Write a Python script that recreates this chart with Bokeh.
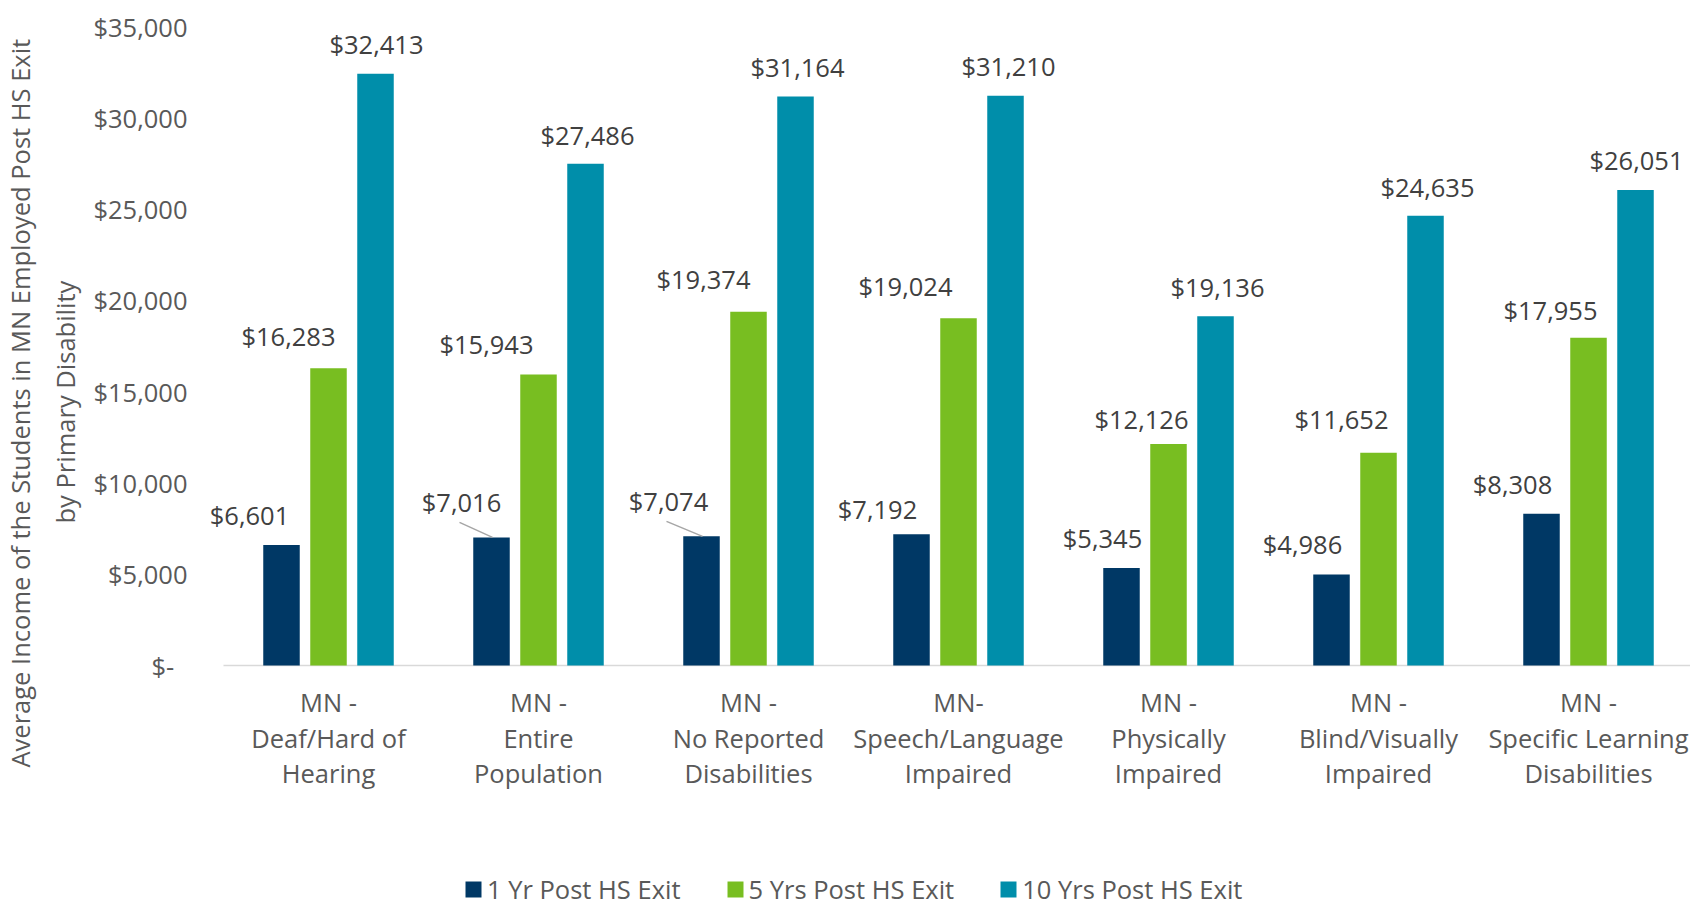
import math
from bokeh.plotting import figure
from bokeh.models import (ColumnDataSource, Range1d, FixedTicker, LabelSet, Title,
                          Legend, LegendItem)
from bokeh.core.properties import value
from bokeh.embed import file_html
from bokeh.resources import INLINE

# ---------------- data ----------------
categories = [
    "MN -\nDeaf/Hard of\nHearing",
    "MN -\nEntire\nPopulation",
    "MN -\nNo Reported\nDisabilities",
    "MN-\nSpeech/Language\nImpaired",
    "MN -\nPhysically\nImpaired",
    "MN -\nBlind/Visually\nImpaired",
    "MN -\nSpecific Learning\nDisabilities",
]
series_names = ["1 Yr Post HS Exit", "5 Yrs Post HS Exit", "10 Yrs Post HS Exit"]
yr1 = [6601, 7016, 7074, 7192, 5345, 4986, 8308]
yr5 = [16283, 15943, 19374, 19024, 12126, 11652, 17955]
yr10 = [32413, 27486, 31164, 31210, 19136, 24635, 26051]
y_ticks = [0, 5000, 10000, 15000, 20000, 25000, 30000, 35000]
y_tick_labels = ["$-\u00a0\u00a0", "$5,000", "$10,000", "$15,000", "$20,000",
                 "$25,000", "$30,000", "$35,000"]
y_title = ["Average Income of the Students in MN Employed Post HS Exit",
           "by Primary Disability"]

# ---------------- layout / style ----------------
colors = ["#003865", "#78BE21", "#008EAA"]
FONT = "Open Sans"
AXIS_TXT = "#595959"
LABEL_TXT = "#404040"
FS = "25.5px"

W, H = 1690, 906
BL = 195                 # frame left edge (px)
AXIS_X0 = 223            # px where the category axis starts
Y_TOP_PX = 26            # px of the 35,000 line
Y_ZERO_PX = 665          # px of the zero line
PX_PER_CAT = 210.0
Y_MAX = 35000
FW = W - BL
px_x = PX_PER_CAT
px_y = (Y_ZERO_PX - Y_TOP_PX) / Y_MAX
x_start = -(AXIS_X0 - BL) / px_x
x_end = x_start + FW / px_x
y_start = -(H - Y_ZERO_PX) / px_y
y_end = Y_MAX + Y_TOP_PX / px_y

bar_w = 36.5 / px_x
dodge = [-47 / px_x, 0.0, 47 / px_x]

# manual data-label placement (px): shift from bar centre, height above bar top
label_dx = [[-32, -30, -33, -34, -19, -29, -29],
            [-40, -52, -45, -53, -27, -37, -38],
            [1, 2, 2, 3, 2, 2, 1]]
label_dy = [[30, 35, 35, 25, 30, 30, 30],
            [32, 30, 33, 32, 25, 34, 28],
            [30, 29, 30, 30, 29, 29, 30]]
leader = [(0, 1), (0, 2)]  # (series, category) labels with leader lines
cat_line_px = [36, 72, 107]  # px below the zero line of each category-label line

p = figure(width=W, height=H, output_backend="svg", toolbar_location=None,
           x_range=Range1d(x_start, x_end), y_range=Range1d(y_start, y_end),
           x_axis_location=None,
           min_border_left=BL, min_border_right=0, min_border_top=0,
           min_border_bottom=0)
p.outline_line_color = None
p.background_fill_color = "white"
p.border_fill_color = "white"
p.xgrid.visible = False
p.ygrid.visible = False

# y axis
p.yaxis.ticker = FixedTicker(ticks=y_ticks)
p.yaxis.major_label_overrides = {t: l for t, l in zip(y_ticks, y_tick_labels)}
p.yaxis.axis_line_color = None
p.yaxis.major_tick_line_color = None
p.yaxis.minor_tick_line_color = None
p.yaxis.major_label_standoff = 2
p.yaxis.major_label_text_font = FONT
p.yaxis.major_label_text_font_size = FS
p.yaxis.major_label_text_color = AXIS_TXT

cat_pos = [i + 0.5 for i in range(len(categories))]

# category baseline
p.segment(x0=[0], y0=[0], x1=[x_end], y1=[0], line_color="#D9D9D9", line_width=1.5)

series = [yr1, yr5, yr10]
renderers = []
for s, vals in enumerate(series):
    xs = [c + dodge[s] for c in cat_pos]
    src = ColumnDataSource(dict(
        x=xs, top=vals,
        txt=["${:,}".format(v) for v in vals],
        dx=label_dx[s], dy=label_dy[s]))
    r = p.vbar(x="x", top="top", width=bar_w, source=src,
               fill_color=colors[s], line_color=None)
    renderers.append(r)
    p.add_layout(LabelSet(x="x", y="top", text="txt", source=src,
                          x_offset="dx", y_offset="dy",
                          text_align="center", text_baseline="middle",
                          text_font=value(FONT), text_font_size=FS,
                          text_color=LABEL_TXT))

# leader lines
lx0, ly0, lx1, ly1 = [], [], [], []
for s, c in leader:
    bx = cat_pos[c] + dodge[s]
    v = series[s][c]
    lx0.append(bx + (label_dx[s][c] - 2) / px_x)
    ly0.append(v + (label_dy[s][c] - 20) / px_y)
    lx1.append(bx + 1 / px_x)
    ly1.append(v)
p.segment(x0=lx0, y0=ly0, x1=lx1, y1=ly1, line_color="#A6A6A6", line_width=1.5)

# category labels (three lines each)
cat_lines = [c.split("\n") for c in categories]
for k in range(3):
    src = ColumnDataSource(dict(x=cat_pos,
                                y=[-cat_line_px[k] / px_y] * len(categories),
                                t=[cl[k] for cl in cat_lines]))
    p.add_layout(LabelSet(x="x", y="y", text="t", source=src,
                          text_align="center", text_baseline="middle",
                          text_font=value(FONT), text_font_size=FS,
                          text_color=AXIS_TXT))

# y axis title: two rotated lines in the left panel (nearest line first)
for txt, sto, off in zip(reversed(y_title), [18, 0], [383, 139]):
    p.add_layout(Title(text=txt, align="left", offset=off, standoff=sto,
                       text_font=FONT, text_font_size=FS,
                       text_font_style="normal", text_color=AXIS_TXT), "left")

legend = Legend(items=[LegendItem(label=n, renderers=[r])
                       for n, r in zip(series_names, renderers)],
                orientation="horizontal", location=(463 - BL, 0),
                padding=0, margin=0, spacing=44, label_standoff=4,
                glyph_width=20, glyph_height=20,
                border_line_color=None, background_fill_alpha=0,
                label_text_font=FONT, label_text_font_size=FS,
                label_text_color=AXIS_TXT)
p.add_layout(legend)

open("out.html", "w").write(file_html(p, INLINE))
